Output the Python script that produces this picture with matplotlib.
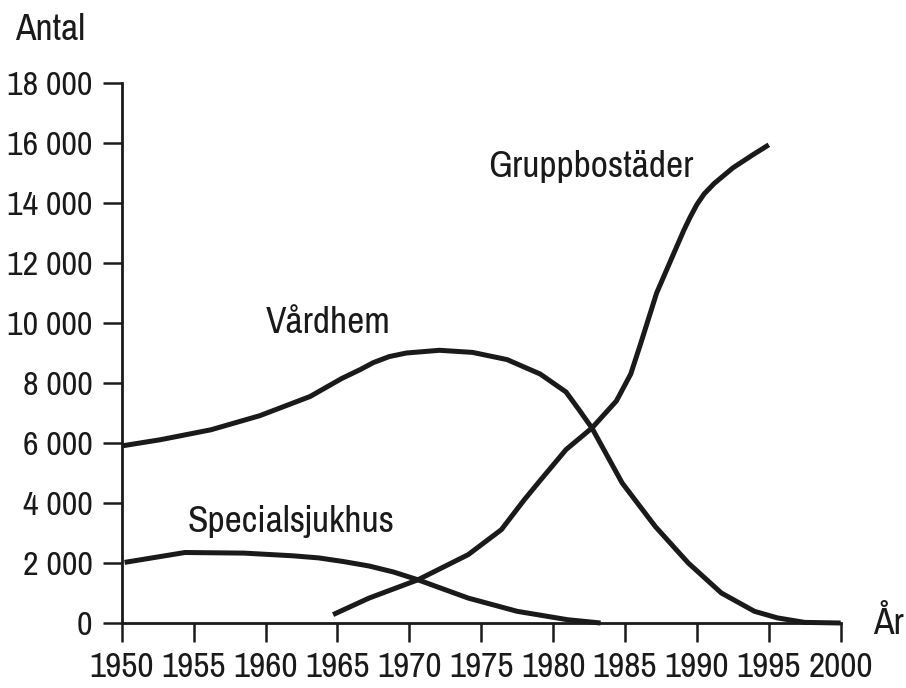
import numpy as np
import matplotlib
matplotlib.use("Agg")
import matplotlib.pyplot as plt
from matplotlib import font_manager as fm

# data
vard_year = [1950.1, 1952.7, 1956.2, 1959.6, 1963.1, 1965.3, 1966.6, 1967.5, 1968.6, 1969.8,
             1972.1, 1974.4, 1976.8, 1979.1, 1980.9, 1981.8, 1982.7, 1984.8, 1987.1, 1989.4,
             1991.7, 1994.0, 1995.6, 1997.5, 2000]
vard_val = [5910, 6110, 6440, 6910, 7550, 8150, 8450, 8680, 8880, 9000,
            9090, 9020, 8780, 8300, 7700, 7110, 6500, 4670, 3220, 2000,
            1000, 390, 170, 20, 0]

grupp_year = [1964.7, 1967.2, 1970.6, 1974.1, 1976.4, 1978.0, 1979.1, 1980.9, 1982.7, 1984.4,
              1985.4, 1986.1, 1987.2, 1988.4, 1989.1, 1989.5, 1990.0, 1990.5, 1991.2, 1992.5,
              1993.9, 1995.0]
grupp_val = [280, 830, 1440, 2280, 3110, 4110, 4750, 5780, 6500, 7400,
             8300, 9330, 11000, 12330, 13100, 13500, 13950, 14300, 14650, 15170,
             15610, 15940]

spec_year = [1950.2, 1954.4, 1958.5, 1961.9, 1963.7, 1965.4, 1967.2, 1968.9, 1970.6, 1974.1,
             1977.5, 1981.0, 1983.3]
spec_val = [2020, 2350, 2330, 2240, 2170, 2050, 1900, 1700, 1440, 830,
            390, 110, 0]

x_ticks = [1950, 1955, 1960, 1965, 1970, 1975, 1980, 1985, 1990, 1995, 2000]
y_ticks = [0, 2000, 4000, 6000, 8000, 10000, 12000, 14000, 16000, 18000]
y_labels = ["0", "2 000", "4 000", "6 000", "8 000", "10 000", "12 000", "14 000", "16 000", "18 000"]

ink = "#1a1a1a"

# narrow font if the system has one
def pick_font():
    pref = []
    for f in fm.fontManager.ttflist:
        if f.style != "normal" or f.weight not in (400, "normal", "regular", "book"):
            continue
        if "Narrow" in f.name: pref.append((0, f))
        elif f.stretch in ("condensed", "semi-condensed") or "Condensed" in f.name:
            pref.append((1 if "DejaVu" in f.name else 2, f))
    if pref:
        pref.sort(key=lambda t: t[0])
        return pref[0][1].fname
    return None

fname = pick_font()
def font(size):
    if fname: return fm.FontProperties(fname=fname, size=size)
    return fm.FontProperties(family="DejaVu Sans", size=size - 5)

fp_tick = font(25.5)
fp_lab = font(27)

fig = plt.figure(figsize=(9.06, 6.88), dpi=100)
ax = fig.add_axes([121.7/906, 65/688, 719/906, 540/688])

for xs, ys in [(vard_year, vard_val), (grupp_year, grupp_val), (spec_year, spec_val)]:
    ax.plot(xs, ys, color=ink, lw=3.6, solid_capstyle="butt", solid_joinstyle="round", clip_on=False)

ax.set_xlim(1950, 2000); ax.set_ylim(0, 18000)
ax.spines[['top', 'right']].set_visible(False)
for s in ('left', 'bottom'):
    ax.spines[s].set_linewidth(2.0); ax.spines[s].set_color(ink)
ax.set_xticks(x_ticks); ax.set_xticklabels([str(x) for x in x_ticks], fontproperties=fp_tick)
ax.set_yticks(y_ticks); ax.set_yticklabels(y_labels, fontproperties=font(24.5))
ax.tick_params(axis='both', direction='out', length=14, width=1.8, color=ink, labelcolor=ink)
ax.tick_params(axis='y', pad=7)
ax.tick_params(axis='x', pad=6)

fig.text(15/906, 1-40/688, "Antal", fontproperties=fp_lab, color=ink, va="baseline", ha="left")
fig.text(873/906, 1-634/688, "År", fontproperties=fp_lab, color=ink, va="baseline", ha="left")
ax.text(1964.35, 9680, "Vårdhem", fontproperties=fp_lab, color=ink, va="baseline", ha="center")
ax.text(1982.6, 14870, "Gruppbostäder", fontproperties=fp_lab, color=ink, va="baseline", ha="center")
ax.text(1961.8, 3040, "Specialsjukhus", fontproperties=fp_lab, color=ink, va="baseline", ha="center")

fig.savefig("out.png", dpi=100, facecolor="white")
